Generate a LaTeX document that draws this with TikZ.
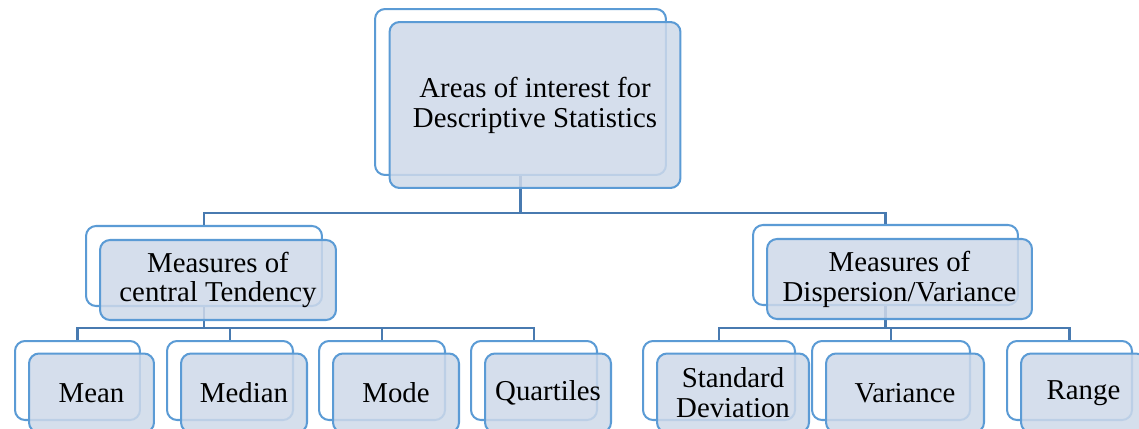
\documentclass[tikz,border=0pt]{standalone}
\usepackage{fontspec}
\setmainfont{Liberation Serif}
\usetikzlibrary{shapes}
\definecolor{boxline}{RGB}{91,155,213}
\definecolor{boxfill}{RGB}{206,217,233}
\definecolor{treeline}{RGB}{72,122,176}
\tikzset{
  backbox/.style={draw=boxline, line width=1.15pt, fill=white, rounded corners=0.2cm, inner sep=0pt},
  frontbox/.style={draw=boxline, line width=1.15pt, fill=boxfill, fill opacity=0.85, text opacity=1,
    rounded corners=0.2cm, inner sep=0pt, align=center, font=\fontsize{16.4}{17}\selectfont},
  branch/.style={draw=treeline, line width=1.4pt}
}
\begin{document}
\begin{tikzpicture}[x=0.02cm, y=-0.02cm]
\useasboundingbox (0,0) rectangle (1139,429);
\clip (0,0) rectangle (1139,429);
% back boxes
\node[backbox, minimum width=5.82cm, minimum height=3.32cm] (rootb) at (520.5,92) {};
\node[backbox, minimum width=4.72cm, minimum height=1.6cm] (centb) at (204,266) {};
\node[backbox, minimum width=5.3cm, minimum height=1.6cm] (dispb) at (885.5,265) {};
\node[backbox, minimum width=2.5cm, minimum height=1.58cm] (meanb) at (77.5,380.5) {};
\node[backbox, minimum width=2.52cm, minimum height=1.58cm] (medianb) at (230,380.5) {};
\node[backbox, minimum width=2.52cm, minimum height=1.58cm] (modeb) at (382,380.5) {};
\node[backbox, minimum width=2.52cm, minimum height=1.58cm] (quartb) at (534,380.5) {};
\node[backbox, minimum width=3.04cm, minimum height=1.58cm] (stdb) at (719,380.5) {};
\node[backbox, minimum width=3.16cm, minimum height=1.58cm] (varb) at (891,380.5) {};
\node[backbox, minimum width=2.5cm, minimum height=1.58cm] (rangeb) at (1069.5,380.5) {};
% tree lines
\coordinate (top) at (520.5,213);
\coordinate (lefttee) at (204,328);
\coordinate (righttee) at (885.5,328);
\draw[branch] (rootb.south) -- (top) -| (centb.north);
\draw[branch] (top) -| (dispb.north);
\draw[branch] (centb.south) -- (lefttee) -| (meanb.north);
\draw[branch] (lefttee) -| (medianb.north);
\draw[branch] (lefttee) -| (modeb.north);
\draw[branch] (lefttee) -| (quartb.north);
\draw[branch] (dispb.south) -- (righttee) -| (stdb.north);
\draw[branch] (righttee) -| (varb.north);
\draw[branch] (righttee) -| (rangeb.north);
% front boxes
\node[frontbox, minimum width=5.82cm, minimum height=3.32cm] (root) at (535,105) {Areas of interest for\\Descriptive Statistics};
\node[frontbox, minimum width=4.72cm, minimum height=1.6cm] (cent) at (218,280) {Measures of\\central Tendency};
\node[frontbox, minimum width=5.3cm, minimum height=1.6cm] (disp) at (899.5,279) {Measures of\\Dispersion/Variance};
\node[frontbox, minimum width=2.5cm, minimum height=1.58cm] (mean) at (91.5,393) {Mean};
\node[frontbox, minimum width=2.52cm, minimum height=1.58cm] (median) at (244,393) {Median};
\node[frontbox, minimum width=2.52cm, minimum height=1.58cm] (mode) at (396,393) {Mode};
\node[frontbox, minimum width=2.52cm, minimum height=1.58cm] (quart) at (548,393) {Quartiles};
\node[frontbox, minimum width=3.04cm, minimum height=1.58cm] (std) at (733,393) {Standard\\Deviation};
\node[frontbox, minimum width=3.16cm, minimum height=1.58cm] (var) at (905,393) {Variance};
\node[frontbox, minimum width=2.5cm, minimum height=1.58cm] (range) at (1083.5,393) {Range};
\end{tikzpicture}
\end{document}
